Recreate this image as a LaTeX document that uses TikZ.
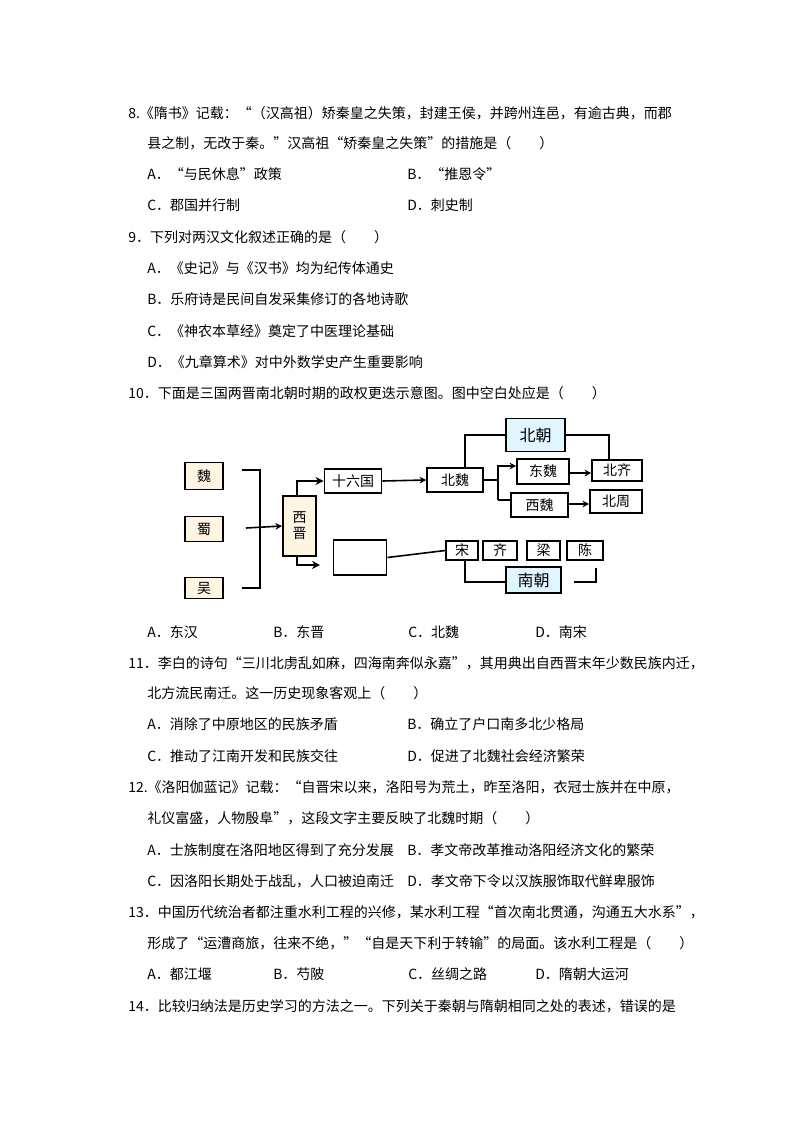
\documentclass[tikz,border=0pt]{standalone}
\usepackage{fontspec}
\setmainfont{Noto Sans CJK SC}
\usetikzlibrary{arrows.meta}
\begin{document}
\begin{tikzpicture}[x=0.75pt,y=-0.75pt,
  tx/.style={anchor=west,inner sep=0pt,font=\fontsize{10.5pt}{12pt}\selectfont},
  bx/.style={draw,line width=1.2pt,inner sep=0pt,font=\fontsize{10.5pt}{12pt}\selectfont},
  yb/.style={bx,fill=yellow!20!orange!10},
  bb/.style={bx,fill=cyan!12,font=\fontsize{12pt}{14pt}\selectfont},
  ln/.style={line width=1.2pt},
  th/.style={line width=2pt},
  ar/.style={line width=1.2pt,-{Stealth[length=5pt,width=5pt]}}]
\useasboundingbox (0,0) rectangle (794,1123);
\fill[white] (0,0) rectangle (794,1123);
% text
\node[tx] (t1) at (128,113) {8.《隋书》记载：“（汉高祖）矫秦皇之失策，封建王侯，并跨州连邑，有逾古典，而郡};
\node[tx] (t2) at (147,143) {县之制，无改于秦。”汉高祖“矫秦皇之失策”的措施是（\quad\quad）};
\node[tx] (t3) at (147,174) {A．“与民休息”政策};
\node[tx] (t4) at (407,174) {B．“推恩令”};
\node[tx] (t5) at (147,205) {C．郡国并行制};
\node[tx] (t6) at (407,205) {D．刺史制};
\node[tx] (t7) at (128,237) {9．下列对两汉文化叙述正确的是（\quad\quad）};
\node[tx] (t8) at (147,268) {A．《史记》与《汉书》均为纪传体通史};
\node[tx] (t9) at (147,299) {B．乐府诗是民间自发采集修订的各地诗歌};
\node[tx] (t10) at (147,331) {C．《神农本草经》奠定了中医理论基础};
\node[tx] (t11) at (147,362) {D．《九章算术》对中外数学史产生重要影响};
\node[tx] (t12) at (128,393) {10．下面是三国两晋南北朝时期的政权更迭示意图。图中空白处应是（\quad\quad）};
\node[tx] (o1) at (147,632) {A．东汉};
\node[tx] (o2) at (273,632) {B．东晋};
\node[tx] (o3) at (408,632) {C．北魏};
\node[tx] (o4) at (535,632) {D．南宋};
\node[tx] (t13) at (128,663) {11．李白的诗句“三川北虏乱如麻，四海南奔似永嘉”，其用典出自西晋末年少数民族内迁，};
\node[tx] (t14) at (147,693) {北方流民南迁。这一历史现象客观上（\quad\quad）};
\node[tx] (t15) at (147,724) {A．消除了中原地区的民族矛盾};
\node[tx] (t16) at (407,724) {B．确立了户口南多北少格局};
\node[tx] (t17) at (147,756) {C．推动了江南开发和民族交往};
\node[tx] (t18) at (407,756) {D．促进了北魏社会经济繁荣};
\node[tx] (t19) at (128,787) {12.《洛阳伽蓝记》记载：“自晋宋以来，洛阳号为荒土，昨至洛阳，衣冠士族并在中原，};
\node[tx] (t20) at (147,818) {礼仪富盛，人物殷阜”，这段文字主要反映了北魏时期（\quad\quad）};
\node[tx] (t21) at (147,850) {A．士族制度在洛阳地区得到了充分发展};
\node[tx] (t22) at (407,850) {B．孝文帝改革推动洛阳经济文化的繁荣};
\node[tx] (t23) at (147,881) {C．因洛阳长期处于战乱，人口被迫南迁};
\node[tx] (t24) at (407,881) {D．孝文帝下令以汉族服饰取代鲜卑服饰};
\node[tx] (t25) at (128,912) {13．中国历代统治者都注重水利工程的兴修，某水利工程“首次南北贯通，沟通五大水系”，};
\node[tx] (t26) at (147,943) {形成了“运漕商旅，往来不绝，”“自是天下利于转输”的局面。该水利工程是（\quad\quad）};
\node[tx] (t27) at (147,974) {A．都江堰};
\node[tx] (t28) at (273,974) {B．芍陂};
\node[tx] (t29) at (408,974) {C．丝绸之路};
\node[tx] (t30) at (535,974) {D．隋朝大运河};
\node[tx] (t31) at (128,1006) {14．比较归纳法是历史学习的方法之一。下列关于秦朝与隋朝相同之处的表述，错误的是};
% diagram
\node[yb,minimum width=28.5pt,minimum height=20pt] (wei) at (204,476) {魏};
\node[yb,minimum width=28.5pt,minimum height=19pt] (shu) at (204,529) {蜀};
\node[yb,minimum width=28.5pt,minimum height=16pt] (wu) at (204,588) {吴};
\node[yb,minimum width=25pt,minimum height=45pt,align=center] (xj) at (299.5,526) {西\\晋};
\node[bx,minimum width=43pt,minimum height=18pt] (sl) at (353,481) {十六国};
\node[bx,minimum width=40pt,minimum height=26pt] (blank) at (360,557.5) {};
\node[bx,minimum width=42pt,minimum height=18pt] (bw) at (455,480) {北魏};
\node[bx,minimum width=39pt,minimum height=19pt] (dw) at (543,471.5) {东魏};
\node[bx,minimum width=43pt,minimum height=18pt] (xw) at (539.5,505) {西魏};
\node[bx,minimum width=37.5pt,minimum height=16pt] (bq) at (617,470.5) {北齐};
\node[bx,minimum width=39pt,minimum height=17pt] (bz) at (616,501.5) {北周};
\node[bb,minimum width=44pt,minimum height=25pt] (bc) at (535.5,435) {北朝};
\node[bx,minimum width=24pt,minimum height=14pt] (song) at (462,550.5) {宋};
\node[bx,minimum width=25.5pt,minimum height=14pt] (qi) at (500,550.5) {齐};
\node[bx,minimum width=25pt,minimum height=14pt] (liang) at (543.5,550.5) {梁};
\node[bx,minimum width=27pt,minimum height=14pt] (chen) at (585,550.5) {陈};
\node[bb,minimum width=41pt,minimum height=19.5pt] (nc) at (533.5,580) {南朝};
% bracket
\coordinate (b1) at (242,470);
\coordinate (b2) at (260,470);
\coordinate (b3) at (260,588);
\coordinate (b4) at (242,588);
\draw[ln] (b1) -- (b2) -- (b3) -- (b4);
\draw[ar] (246,528) -- (xj.west);
\draw[th,-{Stealth[length=6pt,width=6pt]}] (297,496) |- (sl.west);
\draw[th,-{Stealth[length=6pt,width=6pt]}] (297,556) |- (320,565);
\draw[ln] (blank.east) -- (song.west);
\draw[ar] (sl.east) -- (bw.west);
\coordinate (fk) at (498,480);
\draw[ln] (bw.east) -- (fk);
\draw[ar] (498,500) -- (498,466) -- (dw.west |- 0,466);
\draw[ln] (498,500) -- (xw.west |- 0,500);
\draw[ar] (dw.east |- 0,473) -- (bq.west |- 0,473);
\draw[ar] (xw.east |- 0,504) -- (bz.west |- 0,504);
\draw[th] (465,468) -- (465,435) -- (bc.west);
\draw[th] (bc.east) -- (609,435) -- (bq.north -| 609,0);
\draw[th] (465,560) -- (465,582) -- (nc.west |- 0,582);
\draw[th] (574,582) -- (596,582) -- (596,568);
\end{tikzpicture}
\end{document}
